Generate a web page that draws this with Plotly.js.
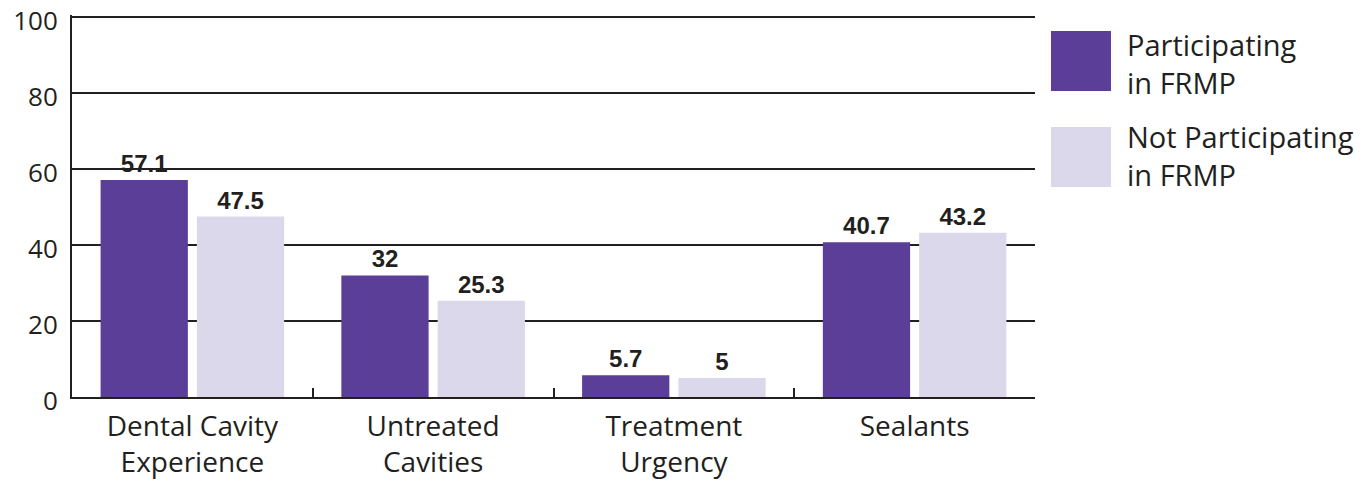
<!DOCTYPE html>
<html>
<head>
<meta charset="utf-8">
<script src="https://cdn.plot.ly/plotly-3.0.1.min.js"></script>
<style>html,body{margin:0;padding:0;background:#fff;}#chart{width:1367px;height:480px;}</style>
</head>
<body>
<div id="chart"></div>
<script>
var categories = ["Dental Cavity<br>Experience", "Untreated<br>Cavities", "Treatment<br>Urgency", "Sealants"];
var participating = [57.1, 32, 5.7, 40.7];
var notParticipating = [47.5, 25.3, 5, 43.2];
var participatingLabels = ["57.1", "32", "5.7", "40.7"];
var notParticipatingLabels = ["47.5", "25.3", "5", "43.2"];
var seriesNames = ["Participating<br>in FRMP", "Not Participating<br>in FRMP"];
var yTicks = [0, 20, 40, 60, 80, 100];

var purple = "#5a3e98";
var lavender = "#dcd8ec";
var ink = "#231f20";
var sans = "Open Sans, Noto Sans, sans-serif";
var valueFont = {family: "Liberation Sans, Arial, sans-serif", size: 24, color: ink, weight: "bold"};

var traces = [
  {type: "bar", x: categories, y: participating, name: seriesNames[0], marker: {color: purple},
   text: participatingLabels, textposition: "outside", textfont: valueFont, cliponaxis: false, hoverinfo: "x+y"},
  {type: "bar", x: categories, y: notParticipating, name: seriesNames[1], marker: {color: lavender},
   text: notParticipatingLabels, textposition: "outside", textfont: valueFont, cliponaxis: false, hoverinfo: "x+y"}
];

// legend drawn beside the plot: one coloured square per series and its name
var legendColors = [purple, lavender];
var legendTop = [0.958, 0.707];     // paper y of the square tops
var legendTextY = [0.872, 0.631];
var shapes = [];
var annotations = [];
seriesNames.forEach(function (name, i) {
  shapes.push({type: "rect", xref: "paper", yref: "paper", x0: 1.0166, x1: 1.0789,
               y0: legendTop[i] - 0.157, y1: legendTop[i], fillcolor: legendColors[i], line: {width: 0}});
  annotations.push({xref: "paper", yref: "paper", x: 1.0945, y: legendTextY[i],
    xanchor: "left", yanchor: "middle", align: "left", text: name, showarrow: false, borderpad: 0,
    font: {family: sans, size: 29, color: ink}});
});

var layout = {
  width: 1367, height: 480,
  margin: {l: 72, r: 332, t: 15, b: 83},
  paper_bgcolor: "#fff", plot_bgcolor: "#fff",
  barmode: "group", bargap: 0.2, bargroupgap: 0.094,
  showlegend: false,
  font: {family: sans, color: ink, size: 27},
  xaxis: {
    type: "category", showline: true, linecolor: ink, linewidth: 2,
    ticks: "inside", tickson: "boundaries", ticklen: 9, tickwidth: 2, tickcolor: ink,
    showgrid: false, tickfont: {family: sans, size: 28, color: ink},
    ticklabelstandoff: 3, ticklabeloverflow: "allow", fixedrange: true
  },
  yaxis: {
    range: [0, 100.53], tickvals: yTicks, ticktext: yTicks.map(String),
    showline: true, linecolor: ink, linewidth: 2,
    showgrid: true, gridcolor: ink, gridwidth: 2, zeroline: false,
    ticks: "", tickfont: {family: sans, size: 26, color: ink},
    ticklabelstandoff: 7, ticklabelshift: 4, ticklabeloverflow: "allow", fixedrange: true
  },
  shapes: shapes,
  annotations: annotations
};

Plotly.newPlot("chart", traces, layout, {displayModeBar: false, staticPlot: true});
</script>
</body>
</html>
